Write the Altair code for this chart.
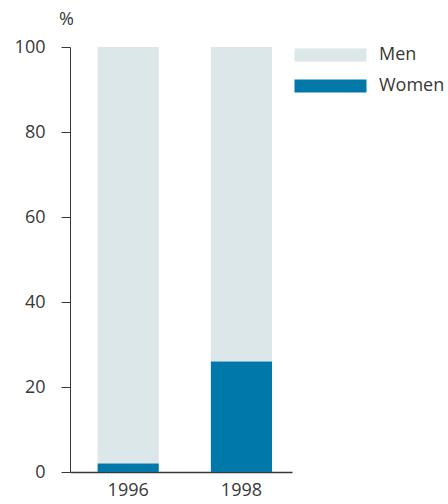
import altair as alt
import pandas as pd

years = ["1996", "1998"]
men = [98, 74]
women = [2, 26]
groups = ["Men", "Women"]
colors = ["#dce7e9", "#0078aa"]

rows = []
for i, y in enumerate(years):
    rows.append({"year": y, "group": "Men", "value": men[i], "ord": 1})
    rows.append({"year": y, "group": "Women", "value": women[i], "ord": 0})
df = pd.DataFrame(rows)

FONT = "Open Sans"
TXT = "#383838"
FS = 18

chart = alt.Chart(df).mark_bar().encode(
    x=alt.X("year:N", title=None,
            scale=alt.Scale(paddingInner=0.46, paddingOuter=0.21, align=0.58),
            axis=alt.Axis(labelAngle=0, ticks=False, labelFontSize=FS, labelColor=TXT,
                          labelFont=FONT, labelPadding=9, domainColor=TXT, domainWidth=1.5)),
    y=alt.Y("value:Q", stack="zero",
            scale=alt.Scale(domain=[0, 100], nice=False),
            axis=alt.Axis(values=[0, 20, 40, 60, 80, 100], grid=False, tickSize=9,
                          tickColor=TXT, domainColor=TXT, labelFontSize=FS, labelColor=TXT,
                          labelFont=FONT, labelPadding=16, title="%", titleAngle=0,
                          titleX=-4, titleY=-23, titleAlign="center", titleBaseline="alphabetic",
                          titleFont=FONT, titleFontSize=FS, titleFontWeight="normal",
                          titleColor=TXT)),
    color=alt.Color("group:N", scale=alt.Scale(domain=groups, range=colors),
                    legend=alt.Legend(title=None, orient="none", legendX=251.5, legendY=-1,
                                      symbolType="M-5.54,-1L5.54,-1L5.54,1L-5.54,1Z",
                                      symbolSize=169, symbolStrokeWidth=0, symbolOpacity=1,
                                      labelFont=FONT, labelFontSize=FS, labelColor=TXT,
                                      labelOffset=39.5, rowPadding=13, padding=0)),
    order=alt.Order("ord:Q"),
).properties(
    width=222, height=425,
    autosize=alt.AutoSizeParams(type="none"),
    padding={"left": 70, "top": 47, "right": 156, "bottom": 32},
).configure_view(stroke=None)

chart.save("out.html", embed_options={"renderer": "svg", "actions": False})
